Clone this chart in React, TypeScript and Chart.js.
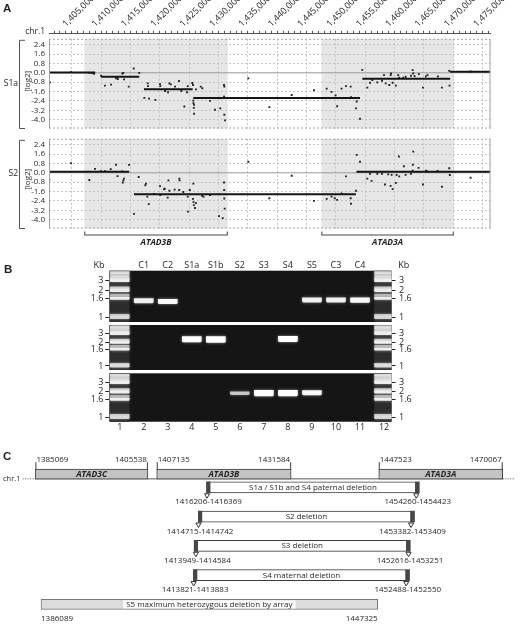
import { useEffect, useRef } from 'react';
import { Chart, registerables } from 'chart.js';

Chart.register(...registerables);

const FONT = "'Open Sans', 'Noto Sans', 'DejaVu Sans', sans-serif";
const INK = '#231f20';

// ---------------- Panel A : array CGH ----------------
const viewStart = 1401130;
const viewEnd = 1476330;
const log2Min = -4.75;
const log2Max = 2.9;
const log2Ticks = [2.4, 1.6, 0.8, 0.0, -0.8, -1.6, -2.4, -3.2, -4.0];

const geneNames = ['ATAD3C', 'ATAD3B', 'ATAD3A'];
const geneStarts = [1385069, 1407135, 1447523];
const geneEnds = [1405538, 1431584, 1470067];
const arrayGenes = ['ATAD3B', 'ATAD3A'];

const s1aProbePos = [
  1401300, 1404880, 1408000, 1408410, 1408800, 1409990, 1410670, 1411690, 1412550, 1412770,
  1412850, 1413620, 1413790, 1413910, 1414710, 1415560, 1416510, 1417370, 1417950, 1417990,
  1418170, 1419240, 1420040, 1420090, 1420890, 1421400, 1421630, 1421860, 1422600, 1423280,
  1423670, 1424180, 1424640, 1424760, 1425540, 1425660, 1425710, 1425740, 1425790, 1425830,
  1425850, 1426170, 1426970, 1427250, 1428560, 1429410, 1430310, 1430940, 1430950, 1430990,
  1431000, 1431110, 1435080, 1438660, 1442470, 1446270, 1448430, 1449250, 1449940, 1450210,
  1450960, 1451720, 1452510, 1452560, 1453420, 1453540, 1454100, 1454490, 1455350, 1455810,
  1456200, 1457050, 1457850, 1458190, 1458480, 1459090, 1459320, 1459380, 1459660, 1460220,
  1460610, 1460780, 1461470, 1461870, 1462780, 1463070, 1463170, 1463400, 1464130, 1464820,
  1465330, 1465600, 1467370, 1468050, 1469300, 1469350, 1472940,
];
const s1aProbeLog2 = [
  -0.82, 0.06, 0.0, -0.03, -0.08, -0.25, -1.1, -1.01, -0.48, -0.39,
  -0.54, -0.06, 0.0, -0.56, -1.18, 0.37, 0.0, -2.14, -0.9, -1.13,
  -2.2, -2.31, -0.96, -1.13, -1.55, -1.66, -0.9, -0.99, -1.18, -0.7,
  -1.55, -2.87, -1.66, -1.13, -0.87, -1.04, -2.37, -2.59, -2.99, -2.73,
  -3.49, -1.41, -1.18, -1.32, -2.39, -3.15, -3.04, -1.04, -2.03, -3.58,
  -1.18, -4.06, -0.48, -2.93, -1.89, -1.49, -1.35, -1.63, -1.92, -2.85,
  -1.35, -1.13, -1.18, -2.08, -3.04, -2.45, -3.92, 0.25, -1.27, -0.85,
  -0.62, -0.82, -0.68, -0.2, -0.9, -1.04, -0.2, -0.06, -0.85, -1.1,
  -0.2, -0.42, -0.42, -0.34, -0.25, 0.23, -0.06, -0.28, -0.11, -1.27,
  -0.31, -0.2, -0.31, -1.27, 0.17, -1.1, 0.11,
];
const s1aSegStart = [1401130, 1410000, 1417300, 1425700, 1454500, 1469450];
const s1aSegEnd = [1409000, 1416500, 1425600, 1454100, 1469450, 1476330];
const s1aSegMean = [0.02, -0.34, -1.41, -2.14, -0.5, 0.08];

const s2ProbePos = [
  1401200, 1404880, 1408000, 1408970, 1409990, 1410670, 1411640, 1412550, 1412800, 1413620,
  1413700, 1413790, 1413910, 1414760, 1415610, 1416410, 1417540, 1417650, 1417880, 1418120,
  1419070, 1420040, 1420090, 1420720, 1420840, 1421350, 1421470, 1421630, 1422540, 1423300,
  1423330, 1423380, 1424010, 1424760, 1424800, 1425100, 1425650, 1425710, 1425750, 1425800,
  1426000, 1426170, 1427210, 1427450, 1428560, 1430090, 1430720, 1430940, 1430960, 1430990,
  1431050, 1435080, 1438660, 1442470, 1446270, 1448430, 1449250, 1449800, 1450210, 1450960,
  1451720, 1452510, 1452560, 1453420, 1453540, 1454100, 1455350, 1455810, 1456080, 1457050,
  1457850, 1458350, 1458900, 1459320, 1459490, 1459660, 1460220, 1460340, 1460730, 1460780,
  1461580, 1461870, 1462780, 1463070, 1463100, 1463170, 1464080, 1464820, 1465330, 1465500,
  1467310, 1468050, 1469300, 1469400, 1472940,
];
const s2ProbeLog2 = [
  -0.58, 0.83, -0.61, 0.33, 0.14, 0.14, 0.31, 0.69, -0.28, 0.11,
  -0.83, -0.64, -0.5, 0.67, -3.5, -0.36, -1.06, -0.92, -2.03, -2.67,
  -1.8, -1.14, -1.89, -1.42, -1.36, -2.11, -0.64, -1.53, -1.44, -1.47,
  -0.5, -0.64, -1.64, -2.03, -3.31, -1.47, -2.22, -0.92, -2.5, -2.75,
  -3.0, -2.58, -1.97, -2.03, -1.89, -3.69, -3.86, -0.83, -1.47, -2.19,
  -3.06, 0.94, -2.17, -0.25, -2.39, -2.22, -2.03, -2.17, -2.31, -1.75,
  -0.31, -2.17, -2.64, -1.53, 1.53, 0.94, -0.5, -0.08, -0.69, -0.08,
  -0.08, -1.0, -0.14, -1.11, -0.17, -1.39, -0.86, -0.17, 1.39, -0.31,
  0.56, -0.17, -0.08, 0.19, 0.69, 1.8, 0.42, -1.0, 0.19, 0.11,
  0.17, -1.19, 0.39, -0.19, -0.42,
];
const s2SegStart = [1401130, 1415600, 1453500];
const s2SegEnd = [1414800, 1453400, 1476330];
const s2SegMean = [0.08, -1.83, 0.08];

// ---------------- Panel B : gel ----------------
const laneNumbers = ['1', '2', '3', '4', '5', '6', '7', '8', '9', '10', '11', '12'];
const laneNames = ['', 'C1', 'C2', 'S1a', 'S1b', 'S2', 'S3', 'S4', 'S5', 'C3', 'C4', ''];
const gelLaneMin = 0.567;
const gelLaneMax = 12.311;
const ladderLanes = [1, 12];
const ladderTickKb = ['3', '2', '1.6', '1'];
const ladderTickMig = [0.19, 0.385, 0.535, 0.91];
const ladderBandMig = [0.04, 0.095, 0.145, 0.19, 0.335, 0.385, 0.47, 0.535, 0.87, 0.915];
const ladderBandInt = [0.7, 0.55, 0.65, 0.9, 0.55, 0.9, 0.35, 0.9, 0.55, 0.65];

const gel1Lanes = [2, 3, 9, 10, 11];
const gel1Mig = [0.585, 0.6, 0.572, 0.572, 0.572];
const gel1Int = [0.55, 0.6, 0.55, 0.55, 0.6];
const gel2Lanes = [4, 5, 8];
const gel2Mig = [0.316, 0.322, 0.311];
const gel2Int = [0.9, 1.0, 0.9];
const gel3Lanes = [6, 7, 8, 9];
const gel3Mig = [0.413, 0.41, 0.41, 0.403];
const gel3Int = [0.3, 0.9, 0.9, 0.6];

// ---------------- Panel C : deletion map ----------------
const mapStart = 1379540;
const mapEnd = 1472300;
const chrDotStart = 1382750;
const delLabels = ['S1a / S1b and S4 paternal deletion', 'S2 deletion', 'S3 deletion', 'S4 maternal deletion'];
const delLeftStart = [1416206, 1414715, 1413949, 1413821];
const delLeftEnd = [1416369, 1414742, 1414584, 1413883];
const delRightStart = [1454260, 1453382, 1452616, 1452488];
const delRightEnd = [1454423, 1453409, 1453251, 1452550];
const arrayDelLabel = 'S5 maximum heterozygous deletion by array';
const arrayDelStart = 1386089;
const arrayDelEnd = 1447325;
const geneRow = -0.45;
const chrRow = -0.29;
const arrayDelRow = 4;

// ---------------- helpers ----------------
function fmtThousands(v: number) {
  return String(Math.round(v)).replace(/\B(?=(\d{3})+(?!\d))/g, ',');
}

function text(ctx: any, s: string, x: number, y: number, o: any = {}) {
  ctx.save();
  ctx.font = `${o.style || 'normal'} ${o.weight || 'normal'} ${o.size || 9}px ${o.family || FONT}`;
  ctx.fillStyle = o.color || INK;
  ctx.textAlign = o.align || 'center';
  ctx.textBaseline = o.baseline || 'middle';
  if (o.rotate) {
    ctx.translate(x, y);
    ctx.rotate(o.rotate);
    ctx.fillText(s, 0, 0);
  } else {
    ctx.fillText(s, x, y);
  }
  ctx.restore();
}

function seg(ctx: any, x0: number, y0: number, x1: number, y1: number, color: string, w = 1, dash: number[] = []) {
  ctx.save();
  ctx.strokeStyle = color;
  ctx.lineWidth = w;
  ctx.setLineDash(dash);
  ctx.beginPath();
  ctx.moveTo(x0, y0);
  ctx.lineTo(x1, y1);
  ctx.stroke();
  ctx.restore();
}

const baseOpts = {
  animation: false,
  responsive: false,
  events: [],
};
const noLegend = { legend: { display: false }, tooltip: { enabled: false } };

// ---------------- chart builders ----------------
function makeAxisChart(canvas: any) {
  return new Chart(canvas, {
    type: 'scatter',
    data: { datasets: [] },
    options: {
      ...baseOpts,
      layout: { padding: { left: 49, right: 29.5, top: 0, bottom: 0 } },
      plugins: noLegend,
      scales: {
        x: {
          type: 'linear', position: 'top', min: viewStart, max: viewEnd,
          afterBuildTicks: (s: any) => {
            const t = [];
            for (let v = Math.ceil(s.min / 1000) * 1000; v <= s.max; v += 1000) t.push({ value: v });
            s.ticks = t;
          },
          afterFit: (s: any) => { s.height = 33.3; },
          ticks: {
            autoSkip: false, minRotation: 45, maxRotation: 45, padding: 1.5,
            font: { family: FONT, size: 9 }, color: INK,
            callback: (v: any) => (v % 5000 === 0 ? fmtThousands(v) : ''),
          },
          grid: { drawOnChartArea: false, tickLength: 2.5, tickColor: '#555', tickWidth: 1 },
          border: { display: true, color: '#555', width: 1 },
        },
        y: { display: false, min: 0, max: 1 },
      },
    } as any,
    plugins: [{
      id: 'axisLabels',
      afterDraw(c: any) {
        const a = c.chartArea;
        text(c.ctx, 'A', 3, 11.7, { size: 11.5, weight: 'bold', family: "'Liberation Sans', Arial, sans-serif", align: 'left', baseline: 'alphabetic' });
        text(c.ctx, 'chr.1', 45, a.top - 1.5, { size: 8.5, align: 'right' });
      },
    }],
  });
}

function makeArrayChart(canvas: any, cfg: any) {
  const points = cfg.probePos.map((x: number, i: number) => ({ x, y: cfg.probeLog2[i] }));
  const segs: any[] = [];
  cfg.segStart.forEach((s: number, i: number) => {
    segs.push({ x: s, y: cfg.segMean[i] }, { x: cfg.segEnd[i], y: cfg.segMean[i] }, { x: cfg.segEnd[i], y: null });
  });
  return new Chart(canvas, {
    type: 'scatter',
    data: {
      datasets: [
        { type: 'line', data: [{ x: viewStart, y: 0 }, { x: viewEnd, y: 0 }], borderColor: '#9a9a9a', borderWidth: 1, pointRadius: 0, order: 3 },
        { type: 'scatter', data: points, pointStyle: 'rect', pointRadius: 1.3, backgroundColor: '#1e1e1e', borderWidth: 0, order: 2 },
        { type: 'line', data: segs, borderColor: '#151515', borderWidth: 2, pointRadius: 0, spanGaps: false, order: 1 },
      ],
    },
    options: {
      ...baseOpts,
      layout: { padding: { top: cfg.padTop, bottom: cfg.padBottom, left: 0, right: 29.5 } },
      plugins: noLegend,
      scales: {
        x: {
          type: 'linear', min: viewStart, max: viewEnd,
          afterBuildTicks: (s: any) => {
            const t = [];
            for (let v = Math.ceil(s.min / 5000) * 5000; v <= s.max; v += 5000) t.push({ value: v });
            s.ticks = t;
          },
          afterFit: (s: any) => { s.height = 0; },
          ticks: { display: false },
          grid: { color: '#c4c4c4', drawTicks: false, lineWidth: 1 },
          border: { display: false, dash: [2, 2] },
        },
        y: {
          type: 'linear', min: log2Min, max: log2Max,
          afterBuildTicks: (s: any) => { s.ticks = log2Ticks.map((v) => ({ value: v })); },
          afterFit: (s: any) => { s.width = 49; },
          ticks: { autoSkip: false, padding: 4, font: { family: FONT, size: 8 }, color: INK, callback: (v: any) => Number(v).toFixed(1) },
          grid: { color: (c: any) => (c.tick && c.tick.value === 0 ? 'rgba(0,0,0,0)' : '#c4c4c4'), drawTicks: false, lineWidth: 1 },
          border: { display: false, dash: [2, 2] },
        },
      },
    } as any,
    plugins: [{
      id: 'arrayDecor',
      beforeDraw(c: any) {
        const { ctx, chartArea: a } = c;
        const xs = c.scales.x;
        ctx.save();
        ctx.fillStyle = '#e6e6e6';
        arrayGenes.forEach((g) => {
          const i = geneNames.indexOf(g);
          const x0 = xs.getPixelForValue(geneStarts[i]);
          const x1 = xs.getPixelForValue(geneEnds[i]);
          ctx.fillRect(x0, a.top, x1 - x0, a.bottom - a.top);
        });
        ctx.restore();
      },
      afterDraw(c: any) {
        const { ctx, chartArea: a } = c;
        seg(ctx, a.left + 0.5, a.top, a.left + 0.5, a.bottom, '#a0a0a0');
        seg(ctx, a.right - 0.5, a.top, a.right - 0.5, a.bottom, '#a0a0a0');
        seg(ctx, a.left, a.top + 0.5, a.right, a.top + 0.5, '#a8a8a8', 1, [2, 2]);
        seg(ctx, a.left, a.bottom - 0.5, a.right, a.bottom - 0.5, '#a8a8a8', 1, [2, 2]);
        const bx = 19.5;
        const bt = a.top + 1.5;
        const bb = a.bottom;
        seg(ctx, bx, bt, bx, bb, '#555');
        seg(ctx, bx, bt, bx + 5.5, bt, '#555');
        seg(ctx, bx, bb, bx + 5.5, bb, '#555');
        text(ctx, cfg.name, 18, a.top + cfg.nameDy, { size: 8.5, align: 'right' });
        text(ctx, '[log2]', 27.8, a.top + cfg.unitDy, { size: 8, rotate: -Math.PI / 2 });
        if (cfg.geneBrackets) {
          const xs = c.scales.x;
          arrayGenes.forEach((g) => {
            const i = geneNames.indexOf(g);
            const x0 = xs.getPixelForValue(geneStarts[i]);
            const x1 = xs.getPixelForValue(geneEnds[i]);
            const y = a.bottom + 6.5;
            seg(ctx, x0, y, x1, y, '#444');
            seg(ctx, x0 + 0.5, y, x0 + 0.5, y - 3.5, '#444');
            seg(ctx, x1 - 0.5, y, x1 - 0.5, y - 3.5, '#444');
            text(ctx, g, (x0 + x1) / 2, y + 7.5, { size: 8.5, weight: 'bold', style: 'italic' });
          });
        }
      },
    }],
  });
}

const bandHalf = (v: number) => 0.014 + 0.05 * v;
const ladderHalf = (v: number) => 0.01 + 0.018 * v;
const bandColor = (v: number) => `rgba(255,255,255,${Math.min(1, 0.4 + 0.9 * v)})`;
const ladderColor = (v: number) => `rgba(240,240,240,${Math.min(1, 0.35 + 0.7 * v)})`;

const glowPlugin = {
  id: 'glow',
  beforeDatasetDraw(c: any, args: any) {
    if (c.data.datasets[args.index].glow) {
      c.ctx.save();
      c.ctx.shadowColor = 'rgba(255,255,255,0.55)';
      c.ctx.shadowBlur = 3;
    }
  },
  afterDatasetDraw(c: any, args: any) {
    if (c.data.datasets[args.index].glow) c.ctx.restore();
  },
};

function makeGel(canvas: any, cfg: any) {
  const ladderData: any[] = [];
  const ladderCols: string[] = [];
  ladderLanes.forEach((l) => {
    ladderBandMig.forEach((m, i) => {
      ladderData.push({ x: l, y: [m - ladderHalf(ladderBandInt[i]), m + ladderHalf(ladderBandInt[i])] });
      ladderCols.push(ladderColor(ladderBandInt[i]));
    });
  });
  const bandData = cfg.lanes.map((l: number, i: number) => ({ x: l, y: [cfg.mig[i] - bandHalf(cfg.int[i]), cfg.mig[i] + bandHalf(cfg.int[i])] }));
  const bandCols = cfg.int.map(bandColor);
  const yAxis = (pos: string) => ({
    type: 'linear', position: pos, min: 0, max: 1, reverse: true, stacked: false,
    afterBuildTicks: (s: any) => { s.ticks = ladderTickMig.map((v) => ({ value: v })); },
    afterFit: (s: any) => { s.width = pos === 'left' ? 109.3 : 128.5; },
    ticks: {
      autoSkip: false, padding: pos === 'left' ? 1.8 : 3.5, font: { family: FONT, size: 9 }, color: INK,
      callback: (v: any) => ladderTickKb[ladderTickMig.indexOf(v)],
    },
    grid: { drawOnChartArea: false, tickLength: 4, tickColor: '#222', tickWidth: 1 },
    border: { display: false },
  });
  return new Chart(canvas, {
    type: 'bar',
    data: {
      datasets: [
        { label: 'ladderLane', data: ladderLanes.map((l) => ({ x: l, y: [0, 1] })), backgroundColor: '#2c2c2c', barThickness: 19, order: 3 },
        { label: 'ladder', glow: true, data: ladderData, backgroundColor: ladderCols, barThickness: 19, borderRadius: 1, order: 2 },
        { label: 'bands', glow: true, data: bandData, backgroundColor: bandCols, barThickness: 19, borderRadius: 1.5, order: 1 },
      ],
    },
    options: {
      ...baseOpts,
      layout: { padding: { top: cfg.padTop, bottom: cfg.padBottom, left: 0, right: 0 } },
      plugins: noLegend,
      scales: {
        x: {
          type: 'linear', min: gelLaneMin, max: gelLaneMax, offset: false, stacked: true, display: false,
          afterBuildTicks: (s: any) => { s.ticks = laneNumbers.map((_, i) => ({ value: i + 1 })); },
        },
        y: yAxis('left'),
        y2: yAxis('right'),
      },
    } as any,
    plugins: [glowPlugin, {
      id: 'gelDecor',
      beforeDraw(c: any) {
        const { ctx, chartArea: a } = c;
        ctx.save();
        ctx.fillStyle = '#151515';
        ctx.fillRect(a.left, a.top, a.right - a.left, a.bottom - a.top);
        ctx.restore();
      },
      afterDraw(c: any) {
        const { ctx, chartArea: a } = c;
        const xs = c.scales.x;
        if (cfg.top) {
          text(ctx, 'B', 4, a.top + 2.6, { size: 11.5, weight: 'bold', family: "'Liberation Sans', Arial, sans-serif", align: 'left', baseline: 'alphabetic' });
          text(ctx, 'Kb', a.left - 10.3, a.top - 5.7, { size: 9 });
          text(ctx, 'Kb', a.right + 12.2, a.top - 5.7, { size: 9 });
          laneNames.forEach((n, i) => {
            if (n) text(ctx, n, xs.getPixelForValue(i + 1), a.top - 5.7, { size: 9 });
          });
        }
        if (cfg.bottom) {
          laneNumbers.forEach((n, i) => {
            text(ctx, n, xs.getPixelForValue(i + 1), a.bottom + 6, { size: 9 });
          });
        }
      },
    }],
  });
}

function makeMapChart(canvas: any) {
  const arrows: any[] = [];
  delLabels.forEach((_, i) => {
    arrows.push({ x: (delLeftStart[i] + delLeftEnd[i]) / 2, y: i + 0.27 });
    arrows.push({ x: (delRightStart[i] + delRightEnd[i]) / 2, y: i + 0.27 });
  });
  const lineDs = (data: any[], dash: number[]) => ({ type: 'line', yAxisID: 'y2', data, borderColor: '#555', borderWidth: 1, borderDash: dash, pointRadius: 0, order: 9 });
  return new Chart(canvas, {
    type: 'bar',
    data: {
      datasets: [
        lineDs([{ x: geneStarts[0], y: chrRow }, { x: geneEnds[2], y: chrRow }], []),
        lineDs([{ x: chrDotStart, y: chrRow }, { x: geneStarts[0], y: chrRow }], [1, 1.5]),
        lineDs([{ x: geneEnds[2], y: chrRow }, { x: mapEnd, y: chrRow }], [1, 1.5]),
        { type: 'bar', indexAxis: 'y', data: geneNames.map((_, i) => ({ x: [geneStarts[i], geneEnds[i]], y: geneRow })), backgroundColor: '#c3c3c3', borderColor: '#3c3c3c', borderWidth: 1, borderSkipped: false, barThickness: 10, order: 6 },
        { type: 'bar', indexAxis: 'y', data: [{ x: [arrayDelStart, arrayDelEnd], y: arrayDelRow }], backgroundColor: '#dcdcdc', borderColor: '#777', borderWidth: 1, borderSkipped: false, barThickness: 10, order: 6 },
        { type: 'bar', indexAxis: 'y', data: delLabels.map((_, i) => ({ x: [delLeftStart[i], delRightStart[i]], y: i })), backgroundColor: '#ffffff', borderColor: '#3c3c3c', borderWidth: 1, borderSkipped: false, barThickness: 11, order: 5 },
        { type: 'bar', indexAxis: 'y', data: delLabels.flatMap((_, i) => [{ x: [delLeftStart[i], delLeftEnd[i]], y: i }, { x: [delRightStart[i], delRightEnd[i]], y: i }]), backgroundColor: '#474747', borderWidth: 0, minBarLength: 3.5, barThickness: 11, order: 4 },
        { type: 'scatter', yAxisID: 'y2', data: arrows, pointStyle: 'triangle', rotation: 180, pointRadius: 3, backgroundColor: '#ffffff', borderColor: '#333', borderWidth: 1, order: 1 },
      ],
    },
    options: {
      ...baseOpts,
      layout: { padding: 0 },
      plugins: noLegend,
      scales: {
        x: { type: 'linear', display: false, min: mapStart, max: mapEnd, offset: false, stacked: false },
        y: { type: 'linear', display: false, min: -1.447, max: 4.67, reverse: true, stacked: true, offset: false },
        y2: { type: 'linear', display: false, min: -1.447, max: 4.67, reverse: true },
      },
    } as any,
    plugins: [{
      id: 'mapText',
      afterDraw(c: any) {
        const ctx = c.ctx;
        const xs = c.scales.x;
        const ys = c.scales.y;
        const px = (v: number) => xs.getPixelForValue(v);
        const py = (v: number) => ys.getPixelForValue(v);
        text(ctx, 'C', 3, 20, { size: 11.5, weight: 'bold', family: "'Liberation Sans', Arial, sans-serif", align: 'left', baseline: 'alphabetic' });
        text(ctx, 'chr.1', 3, py(chrRow), { size: 7.5, align: 'left' });
        geneNames.forEach((g, i) => {
          const x0 = px(geneStarts[i]);
          const x1 = px(geneEnds[i]);
          const top = py(geneRow) - 5;
          seg(ctx, x0 + 0.5, top, x0 + 0.5, top - 7, '#3c3c3c');
          seg(ctx, x1 - 0.5, top, x1 - 0.5, top - 7, '#3c3c3c');
          text(ctx, g, (x0 + x1) / 2, py(geneRow) + 0.5, { size: 8.5, weight: 'bold', style: 'italic' });
          text(ctx, String(geneStarts[i]), x0 + 1, top - 9.3, { size: 8, align: 'left' });
          text(ctx, String(geneEnds[i]), x1 - 1, top - 9.3, { size: 8, align: 'right' });
        });
        delLabels.forEach((lab, i) => {
          const x0 = px(delLeftStart[i]);
          const x1 = px(delRightStart[i]) + 3.5;
          text(ctx, lab, (x0 + x1) / 2, py(i) + 0.3, { size: 8 });
          text(ctx, `${delLeftStart[i]}-${delLeftEnd[i]}`, px((delLeftStart[i] + delLeftEnd[i]) / 2) + 1.5, py(i + 0.5), { size: 8 });
          text(ctx, `${delRightStart[i]}-${delRightEnd[i]}`, px((delRightStart[i] + delRightEnd[i]) / 2) + 1.5, py(i + 0.5), { size: 8 });
        });
        const ax0 = px(arrayDelStart);
        const ax1 = px(arrayDelEnd);
        const ay = py(arrayDelRow);
        ctx.save();
        ctx.font = `8px ${FONT}`;
        const w = ctx.measureText(arrayDelLabel).width;
        ctx.fillStyle = '#ffffff';
        ctx.fillRect((ax0 + ax1) / 2 - w / 2 - 3, ay - 4, w + 6, 8);
        ctx.restore();
        text(ctx, arrayDelLabel, (ax0 + ax1) / 2, ay + 0.3, { size: 8 });
        text(ctx, String(arrayDelStart), ax0, py(arrayDelRow + 0.5), { size: 8, align: 'left' });
        text(ctx, String(arrayDelEnd), ax1, py(arrayDelRow + 0.5), { size: 8, align: 'right' });
      },
    }],
  });
}

export default function App() {
  const axisRef = useRef<HTMLCanvasElement>(null);
  const s1aRef = useRef<HTMLCanvasElement>(null);
  const s2Ref = useRef<HTMLCanvasElement>(null);
  const g1Ref = useRef<HTMLCanvasElement>(null);
  const g2Ref = useRef<HTMLCanvasElement>(null);
  const g3Ref = useRef<HTMLCanvasElement>(null);
  const mapRef = useRef<HTMLCanvasElement>(null);

  useEffect(() => {
    const charts: any[] = [];
    charts.push(makeAxisChart(axisRef.current));
    charts.push(makeArrayChart(s1aRef.current, {
      name: 'S1a', probePos: s1aProbePos, probeLog2: s1aProbeLog2,
      segStart: s1aSegStart, segEnd: s1aSegEnd, segMean: s1aSegMean,
      padTop: 7.5, padBottom: 11.5, nameDy: 45, unitDy: 42.5, geneBrackets: false,
    }));
    charts.push(makeArrayChart(s2Ref.current, {
      name: 'S2', probePos: s2ProbePos, probeLog2: s2ProbeLog2,
      segStart: s2SegStart, segEnd: s2SegEnd, segMean: s2SegMean,
      padTop: 7.5, padBottom: 26.5, nameDy: 35, unitDy: 40.5, geneBrackets: true,
    }));
    charts.push(makeGel(g1Ref.current, { lanes: gel1Lanes, mig: gel1Mig, int: gel1Int, padTop: 20.7, padBottom: 13, top: true, bottom: false }));
    charts.push(makeGel(g2Ref.current, { lanes: gel2Lanes, mig: gel2Mig, int: gel2Int, padTop: 12, padBottom: 11, top: false, bottom: false }));
    charts.push(makeGel(g3Ref.current, { lanes: gel3Lanes, mig: gel3Mig, int: gel3Int, padTop: 12.3, padBottom: 19.3, top: false, bottom: true }));
    charts.push(makeMapChart(mapRef.current));
    return () => charts.forEach((c) => c.destroy());
  }, []);

  const cv = (ref: any, top: number, h: number) => (
    <canvas ref={ref} width={520} height={h} style={{ position: 'absolute', left: 0, top, width: 520, height: h }} />
  );

  return (
    <div style={{ position: 'fixed', left: 0, top: 0, width: 520, height: 629, background: '#ffffff', overflow: 'hidden' }}>
      {cv(axisRef, 0, 36)}
      {cv(s1aRef, 30, 110)}
      {cv(s2Ref, 130, 125)}
      {cv(g1Ref, 250, 85)}
      {cv(g2Ref, 313, 68)}
      {cv(g3Ref, 361, 80)}
      {cv(mapRef, 440, 189)}
    </div>
  );
}
